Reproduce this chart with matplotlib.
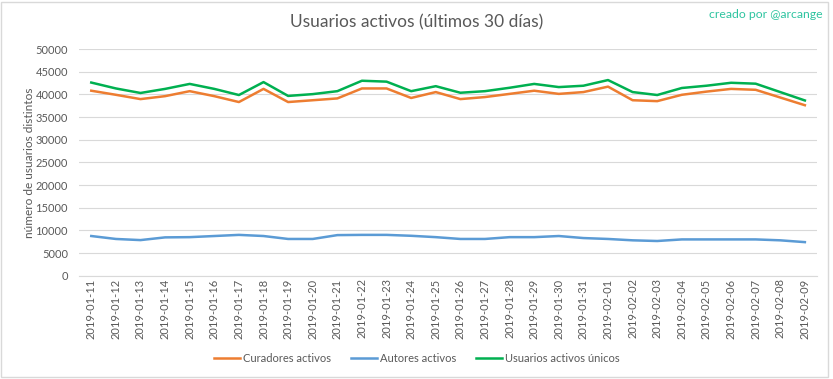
import numpy as np
import pandas as pd
import matplotlib
matplotlib.use("Agg")
import matplotlib.pyplot as plt
from matplotlib.patches import Rectangle

plt.rcParams['font.family'] = ['Lato', 'DejaVu Sans']

# fechas (últimos 30 días)
dates = pd.date_range("2019-01-11", "2019-02-09").strftime("%Y-%m-%d").tolist()

curadores = [40800, 39900, 38950, 39600, 40700, 39600, 38300, 41200, 38300, 38700,
             39100, 41300, 41300, 39200, 40500, 38950, 39400, 40100, 40800, 40100,
             40500, 41700, 38700, 38500, 39900, 40600, 41200, 41000, 39300, 37600]
autores = [8750, 8100, 7850, 8450, 8500, 8750, 9000, 8750, 8100, 8100,
           8950, 9000, 9000, 8800, 8500, 8100, 8100, 8500, 8500, 8750,
           8300, 8100, 7800, 7650, 8000, 8000, 8000, 8000, 7800, 7400]
unicos = [42600, 41300, 40300, 41200, 42300, 41200, 39850, 42700, 39650, 40050,
          40700, 43000, 42800, 40700, 41800, 40350, 40700, 41450, 42300, 41600,
          41900, 43150, 40500, 39850, 41400, 41900, 42550, 42350, 40500, 38650]

txt = '#595959'
fig = plt.figure(figsize=(8.33, 3.79), dpi=100)
ax = fig.add_axes([0.0948, 0.2726, 0.8862, 0.5981])

x = np.arange(len(dates))
ax.plot(x, curadores, color='#ED7D31', lw=1.8, label='Curadores activos')
ax.plot(x, autores, color='#5B9BD5', lw=1.8, label='Autores activos')
ax.plot(x, unicos, color='#00B050', lw=1.8, label='Usuarios activos únicos')

ax.set_xlim(-0.5, len(dates) - 0.5)
ax.set_ylim(0, 50000)
ax.set_yticks(range(0, 50001, 5000))
ax.set_xticks(x)
ax.set_xticklabels(dates, rotation=90)
ax.tick_params(axis='both', length=0, colors=txt, labelsize=8)
ax.tick_params(axis='x', pad=2)
ax.tick_params(axis='y', pad=8)
ax.grid(axis='y', color='#D9D9D9', lw=0.8)
ax.set_axisbelow(True)
for s in ['top', 'right', 'left']:
    ax.spines[s].set_visible(False)
ax.spines['bottom'].set_color('#D9D9D9')

ax.set_ylabel('número de usuarios distintos', color=txt, fontsize=8.6)
ax.yaxis.set_label_coords(-0.059, 0.497)

fig.text(0.5, 0.942, 'Usuarios activos (últimos 30 días)', ha='center', va='center',
         color=txt, fontsize=12.5)
fig.text(0.987, 0.962, 'creado por @arcange', ha='right', va='center',
         color='#2EC4A0', fontsize=8.8)

fig.legend(loc='center', bbox_to_anchor=(0.5, 0.055), ncol=3, frameon=False,
           fontsize=8, labelcolor=txt, handlelength=2.4, handletextpad=0.2,
           columnspacing=1.8)

# marco del gráfico
fig.patches.append(Rectangle((0.0015, 0.004), 0.993, 0.99, transform=fig.transFigure,
                             fill=False, edgecolor='#D9D9D9', lw=1))

fig.savefig('out.png', dpi=100)
